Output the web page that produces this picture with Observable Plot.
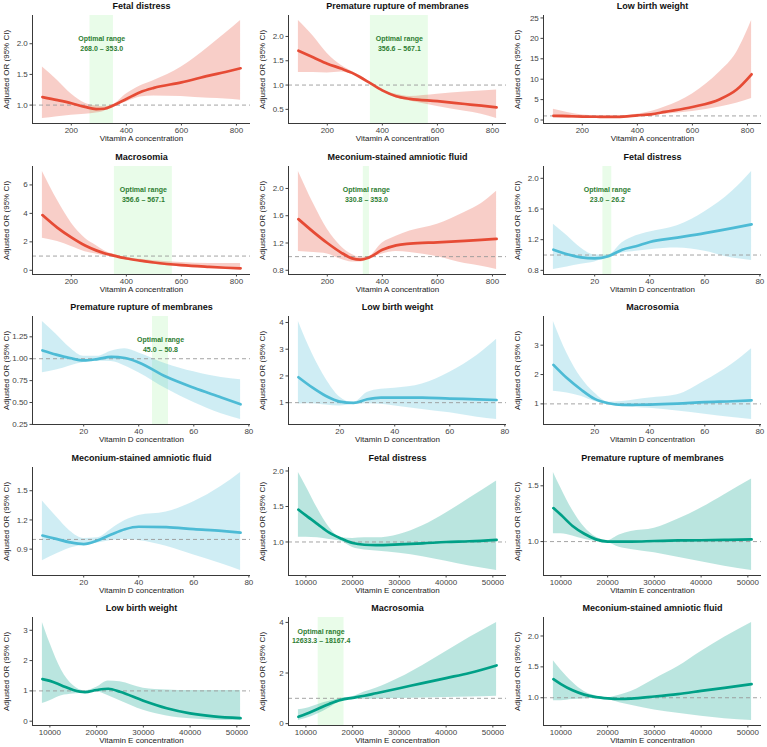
<!DOCTYPE html>
<html>
<head>
<meta charset="utf-8">
<script src="https://cdn.jsdelivr.net/npm/d3@7"></script>
<script src="https://cdn.jsdelivr.net/npm/@observablehq/plot@0.6"></script>
<style>
  html, body { margin: 0; padding: 0; background: #fff; }
  #grid { position: relative; width: 767px; height: 747px; overflow: hidden; }
  #grid svg { position: absolute; }
</style>
</head>
<body>
<div id="grid"></div>
<script>
// Restricted cubic spline fits: adjusted OR with 95% CI by vitamin concentration.

// Concentration grids (x) for each vitamin
const gridA = [95, 150, 200, 250, 290, 320, 350, 400, 450, 500, 600, 700, 760, 815];
const gridD = [5, 10, 15, 20, 25, 30, 35, 40, 50, 60, 70, 77];
const gridE = [8400, 10000, 12500, 15000, 17500, 20000, 22500, 25000, 30000, 35000, 40000, 45000, 50800];

// Vitamin A
const fdA_or = [1.13, 1.08, 1.03, 0.97, 0.935, 0.94, 0.99, 1.10, 1.21, 1.28, 1.37, 1.48, 1.54, 1.60];
const fdA_lo = [0.78, 0.81, 0.835, 0.85, 0.87, 0.90, 0.98, 1.05, 1.13, 1.15, 1.14, 1.11, 1.10, 1.08];
const fdA_hi = [1.62, 1.40, 1.18, 1.03, 0.985, 0.975, 1.0, 1.18, 1.31, 1.40, 1.62, 1.95, 2.17, 2.38];

const promA_or = [1.706, 1.567, 1.44, 1.34, 1.25, 1.16, 1.06, 0.89, 0.77, 0.716, 0.668, 0.61, 0.575, 0.54];
const promA_lo = [1.256, 1.256, 1.25, 1.27, 1.22, 1.14, 1.04, 0.855, 0.74, 0.67, 0.56, 0.46, 0.40, 0.31];
const promA_hi = [2.33, 2.0, 1.65, 1.41, 1.28, 1.19, 1.08, 0.90, 0.81, 0.765, 0.81, 0.855, 0.88, 0.90];

const lbwA_or = [1.05, 0.95, 0.85, 0.80, 0.76, 0.78, 0.85, 1.15, 1.4, 2.0, 3.2, 5.1, 7.4, 11.2];
const lbwA_lo = [0.35, 0.40, 0.45, 0.48, 0.50, 0.55, 0.65, 0.95, 1.15, 1.4, 2.1, 3.2, 4.1, 5.3];
const lbwA_hi = [2.65, 1.8, 1.25, 1.05, 0.98, 0.98, 1.05, 1.4, 2.1, 3.2, 6.4, 11.8, 16.5, 24.4];

const macA_or = [3.88, 2.98, 2.31, 1.74, 1.40, 1.20, 1.05, 0.83, 0.68, 0.55, 0.36, 0.24, 0.18, 0.14];
const macA_lo = [2.26, 2.02, 1.67, 1.31, 1.15, 1.03, 0.95, 0.76, 0.58, 0.43, 0.24, 0.14, 0.09, 0.05];
const macA_hi = [6.95, 4.9, 3.33, 2.26, 1.75, 1.38, 1.14, 0.90, 0.77, 0.67, 0.55, 0.48, 0.48, 0.48];

const msafA_or = [1.55, 1.36, 1.20, 1.06, 0.975, 0.955, 0.985, 1.10, 1.165, 1.19, 1.21, 1.23, 1.245, 1.26];
const msafA_lo = [1.075, 1.06, 1.04, 0.96, 0.92, 0.92, 0.97, 1.04, 1.075, 1.06, 1.0, 0.90, 0.86, 0.81];
const msafA_hi = [2.25, 1.775, 1.40, 1.15, 1.03, 0.99, 1.0, 1.20, 1.30, 1.375, 1.475, 1.65, 1.78, 1.96];

// Vitamin D
const fdD_or = [1.07, 1.01, 0.97, 0.957, 0.985, 1.07, 1.115, 1.17, 1.227, 1.285, 1.35, 1.40];
const fdD_lo = [0.81, 0.845, 0.88, 0.91, 0.97, 1.025, 1.05, 1.07, 1.09, 1.05, 0.96, 0.93];
const fdD_hi = [1.40, 1.25, 1.09, 1.0, 1.0, 1.16, 1.25, 1.30, 1.38, 1.565, 1.83, 2.09];

const promD_or = [1.094, 1.047, 1.008, 0.98, 0.996, 1.02, 1.008, 0.957, 0.793, 0.668, 0.558, 0.48];
const promD_lo = [0.84, 0.87, 0.918, 0.957, 0.97, 0.969, 0.918, 0.84, 0.656, 0.50, 0.371, 0.305];
const promD_hi = [1.426, 1.28, 1.125, 1.027, 1.027, 1.086, 1.113, 1.066, 0.94, 0.85, 0.785, 0.76];

const lbwD_or = [1.95, 1.57, 1.25, 1.04, 0.99, 1.127, 1.19, 1.19, 1.19, 1.15, 1.127, 1.10];
const lbwD_lo = [0.95, 0.96, 0.91, 0.873, 0.937, 0.96, 0.937, 0.873, 0.747, 0.62, 0.456, 0.367];
const lbwD_hi = [4.04, 2.84, 1.89, 1.215, 1.0, 1.38, 1.50, 1.54, 1.70, 2.14, 2.77, 3.37];

const macD_or = [2.33, 1.87, 1.49, 1.17, 1.02, 0.965, 0.97, 0.977, 1.01, 1.06, 1.09, 1.12];
const macD_lo = [1.43, 1.37, 1.256, 1.08, 0.99, 0.907, 0.88, 0.85, 0.756, 0.65, 0.535, 0.465];
const macD_hi = [3.81, 2.71, 1.895, 1.37, 1.06, 1.08, 1.14, 1.20, 1.31, 1.78, 2.36, 2.88];

const msafD_or = [1.04, 1.005, 0.97, 0.952, 0.988, 1.05, 1.105, 1.13, 1.126, 1.105, 1.087, 1.07];
const msafD_lo = [0.78, 0.85, 0.91, 0.94, 0.964, 0.989, 1.0, 0.989, 0.929, 0.84, 0.75, 0.68];
const msafD_hi = [1.394, 1.235, 1.087, 1.01, 1.016, 1.105, 1.193, 1.246, 1.281, 1.387, 1.546, 1.688];

// Vitamin E
const fdE_or = [1.456, 1.374, 1.252, 1.131, 1.049, 0.985, 0.961, 0.956, 0.966, 0.981, 1.0, 1.01, 1.03];
const fdE_lo = [1.068, 1.068, 1.058, 1.034, 1.01, 0.922, 0.888, 0.874, 0.84, 0.791, 0.728, 0.66, 0.597];
const fdE_hi = [1.98, 1.786, 1.47, 1.204, 1.058, 1.049, 1.058, 1.058, 1.107, 1.228, 1.408, 1.617, 1.86];

const promE_or = [1.30, 1.24, 1.14, 1.07, 1.02, 1.0, 1.0, 1.0, 1.005, 1.01, 1.012, 1.015, 1.02];
const promE_lo = [1.07, 1.07, 1.05, 1.02, 1.0, 0.99, 0.95, 0.93, 0.90, 0.86, 0.82, 0.78, 0.74];
const promE_hi = [1.62, 1.48, 1.28, 1.13, 1.04, 1.01, 1.06, 1.09, 1.12, 1.20, 1.30, 1.42, 1.56];

const lbwE_or = [1.39, 1.33, 1.18, 1.03, 0.96, 1.03, 1.07, 0.97, 0.674, 0.427, 0.258, 0.157, 0.10];
const lbwE_lo = [0.58, 0.674, 0.84, 0.90, 0.93, 0.97, 0.84, 0.674, 0.36, 0.17, 0.08, 0.034, 0.02];
const lbwE_hi = [3.26, 2.58, 1.685, 1.18, 1.0, 1.12, 1.33, 1.30, 1.09, 1.03, 1.01, 1.01, 1.01];

const macE_or = [0.27, 0.38, 0.58, 0.78, 0.94, 1.02, 1.10, 1.20, 1.40, 1.60, 1.80, 2.00, 2.30];
const macE_lo = [0.12, 0.20, 0.38, 0.62, 0.88, 0.98, 0.96, 0.97, 0.99, 1.01, 1.03, 1.05, 1.08];
const macE_hi = [0.55, 0.60, 0.75, 0.88, 1.00, 1.06, 1.25, 1.40, 1.80, 2.30, 2.85, 3.40, 4.00];

const msafE_or = [1.30, 1.22, 1.12, 1.05, 1.01, 0.99, 0.98, 0.985, 1.02, 1.06, 1.11, 1.16, 1.22];
const msafE_lo = [0.95, 0.95, 0.97, 0.98, 0.99, 0.97, 0.92, 0.88, 0.80, 0.75, 0.70, 0.66, 0.63];
const msafE_hi = [1.60, 1.45, 1.25, 1.10, 1.03, 1.00, 1.04, 1.10, 1.30, 1.50, 1.75, 1.98, 2.22];

// Optimal ranges [low, high]
const optFdA = [268.0, 353.0];
const optPromA = [356.6, 567.1];
const optMacA = [356.6, 567.1];
const optMsafA = [330.8, 353.0];
const optFdD = [23.0, 26.2];
const optPromD = [45.0, 50.8];
const optMacE = [12633.3, 18167.4];

// Axis ticks
const ticksA = [200, 400, 600, 800];
const ticksD = [20, 40, 60, 80];
const ticksE = [10000, 20000, 30000, 40000, 50000];

const vitamins = {
  A: {grid: gridA, ticks: ticksA, label: "Vitamin A concentration", color: "#E64B35"},
  D: {grid: gridD, ticks: ticksD, label: "Vitamin D concentration", color: "#4DBBD5"},
  E: {grid: gridE, ticks: ticksE, label: "Vitamin E concentration", color: "#00A087"}
};

const panels = [
  {title: "Fetal distress", vit: "A", or: fdA_or, lo: fdA_lo, hi: fdA_hi, yTicks: [1.0, 1.5, 2.0], fmt: ".1f", opt: optFdA},
  {title: "Premature rupture of membranes", vit: "A", or: promA_or, lo: promA_lo, hi: promA_hi, yTicks: [0.5, 1.0, 1.5, 2.0], fmt: ".1f", opt: optPromA},
  {title: "Low birth weight", vit: "A", or: lbwA_or, lo: lbwA_lo, hi: lbwA_hi, yTicks: [0, 5, 10, 15, 20, 25], fmt: "d"},
  {title: "Macrosomia", vit: "A", or: macA_or, lo: macA_lo, hi: macA_hi, yTicks: [0, 2, 4, 6], fmt: "d", opt: optMacA},
  {title: "Meconium-stained amniotic fluid", vit: "A", or: msafA_or, lo: msafA_lo, hi: msafA_hi, yTicks: [0.8, 1.2, 1.6, 2.0], fmt: ".1f", opt: optMsafA},
  {title: "Fetal distress", vit: "D", or: fdD_or, lo: fdD_lo, hi: fdD_hi, yTicks: [0.8, 1.2, 1.6, 2.0], fmt: ".1f", opt: optFdD},
  {title: "Premature rupture of membranes", vit: "D", or: promD_or, lo: promD_lo, hi: promD_hi, yTicks: [0.25, 0.5, 0.75, 1.0, 1.25], fmt: ".2f", opt: optPromD},
  {title: "Low birth weight", vit: "D", or: lbwD_or, lo: lbwD_lo, hi: lbwD_hi, yTicks: [1, 2, 3, 4], fmt: "d"},
  {title: "Macrosomia", vit: "D", or: macD_or, lo: macD_lo, hi: macD_hi, yTicks: [1, 2, 3], fmt: "d"},
  {title: "Meconium-stained amniotic fluid", vit: "D", or: msafD_or, lo: msafD_lo, hi: msafD_hi, yTicks: [0.9, 1.2, 1.5], fmt: ".1f"},
  {title: "Fetal distress", vit: "E", or: fdE_or, lo: fdE_lo, hi: fdE_hi, yTicks: [1.0, 1.5, 2.0], fmt: ".1f"},
  {title: "Premature rupture of membranes", vit: "E", or: promE_or, lo: promE_lo, hi: promE_hi, yTicks: [1.0, 1.5], fmt: ".1f"},
  {title: "Low birth weight", vit: "E", or: lbwE_or, lo: lbwE_lo, hi: lbwE_hi, yTicks: [0, 1, 2, 3], fmt: "d"},
  {title: "Macrosomia", vit: "E", or: macE_or, lo: macE_lo, hi: macE_hi, yTicks: [0, 2, 4], fmt: "d", opt: optMacE, labelDx: -10, labelDy: 18},
  {title: "Meconium-stained amniotic fluid", vit: "E", or: msafE_or, lo: msafE_lo, hi: msafE_hi, yTicks: [1.0, 1.5, 2.0], fmt: ".1f"}
];

const W = 255, H = 150, colStep = 255.5, rowStep = 150.6;
const font = "'Liberation Sans', Arial, Helvetica, sans-serif";

function expand([a, b], k = 0.05) {
  const r = b - a;
  return [a - r * k, b + r * k];
}

function drawPanel(p) {
  const v = vitamins[p.vit];
  const rows = v.grid.map((x, i) => ({x, or: p.or[i], lo: p.lo[i], hi: p.hi[i]}));
  const xDomain = expand(d3.extent(v.grid));
  const yDomain = expand([Math.min(d3.min(p.lo), 1), Math.max(d3.max(p.hi), 1)]);
  const marks = [];
  if (p.opt) {
    marks.push(Plot.rect([{x1: p.opt[0], x2: p.opt[1]}], {x1: "x1", x2: "x2", fill: "#90ee90", fillOpacity: 0.2}));
  }
  marks.push(
    Plot.areaY(rows, {x: "x", y1: "lo", y2: "hi", fill: v.color, fillOpacity: 0.27, curve: "monotone-x"}),
    Plot.ruleY([1], {stroke: "#9a9a9a", strokeWidth: 0.9, strokeDasharray: "4,3"}),
    Plot.lineY(rows, {x: "x", y: "or", stroke: v.color, strokeWidth: 2.7, curve: "monotone-x"}),
    Plot.ruleY([yDomain[0]], {stroke: "#222", strokeWidth: 0.9}),
    Plot.ruleX([xDomain[0]], {stroke: "#222", strokeWidth: 0.9}),
    Plot.axisX({ticks: v.ticks, tickFormat: d => String(d), tickSize: 2.5, tickPadding: 1.5, color: "#444", fontSize: 8, label: null}),
    Plot.axisY({ticks: p.yTicks, tickFormat: d3.format(p.fmt), tickSize: 2.5, tickPadding: 2.2, color: "#444", fontSize: 8, label: null}),
    Plot.text([p.title], {frameAnchor: "top", dy: -9, lineAnchor: "middle", fontWeight: "bold", fontSize: 9, fill: "#111"}),
    Plot.text([v.label], {frameAnchor: "bottom", dy: 15, lineAnchor: "middle", fontSize: 8, fill: "#1a1a1a"}),
    Plot.text(["Adjusted OR (95% CI)"], {frameAnchor: "left", dx: -26, rotate: -90, textAnchor: "middle", lineAnchor: "middle", fontSize: 8, fill: "#1a1a1a"})
  );
  if (p.opt) {
    const label = `Optimal range\n${p.opt[0].toFixed(1)} – ${p.opt[1].toFixed(1)}`;
    marks.push(Plot.text([{x: (p.opt[0] + p.opt[1]) / 2, label}], {
      x: "x", text: "label", frameAnchor: "top",
      dx: p.labelDx ?? 0, dy: p.labelDy ?? 27.5,
      lineAnchor: "middle", lineHeight: 1.35,
      fontWeight: "bold", fontSize: 7, fill: "#2e7d32"
    }));
  }
  return Plot.plot({
    width: W, height: H,
    marginTop: 15, marginBottom: 27, marginLeft: 32, marginRight: 5,
    style: {fontFamily: font, fontSize: "8px", background: "transparent", overflow: "visible"},
    x: {domain: xDomain},
    y: {domain: yDomain},
    marks
  });
}

const grid = document.getElementById("grid");
panels.forEach((p, i) => {
  const svg = drawPanel(p);
  svg.style.left = `${(i % 3) * colStep}px`;
  svg.style.top = `${Math.floor(i / 3) * rowStep}px`;
  grid.appendChild(svg);
});
</script>
</body>
</html>
